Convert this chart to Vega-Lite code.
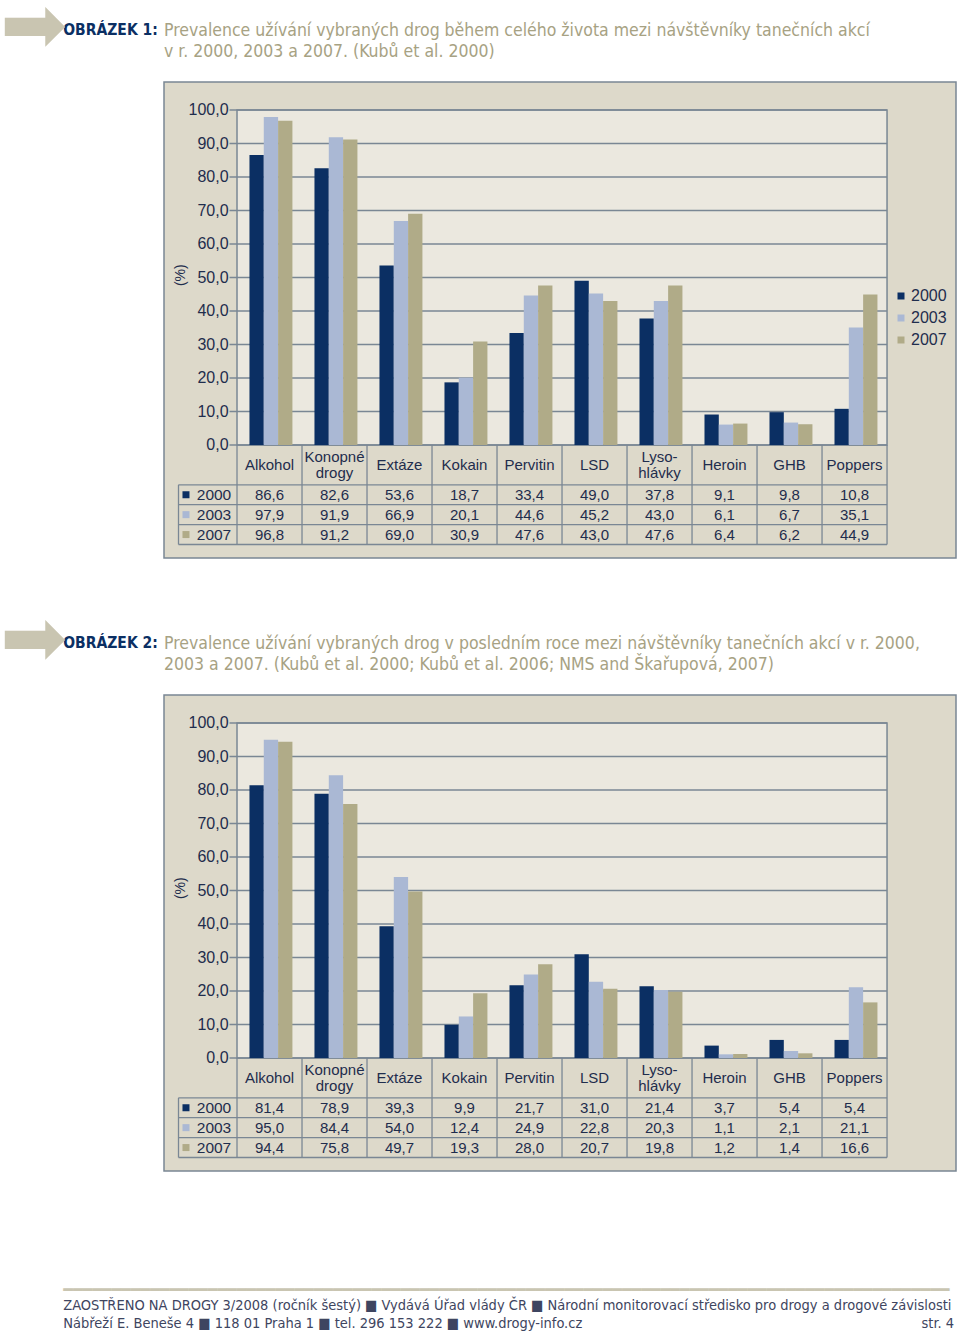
{
"$schema": "https://vega.github.io/schema/vega-lite/v6.json",
"background": "white",
"padding": {"left": 0, "right": 0, "top": -12, "bottom": 0},
"config": {
  "locale": {"number": {"decimal": ",", "thousands": " ", "grouping": [3], "currency": ["", ""]}},
  "font": "Liberation Sans"
},
"datasets": {
  "grid": [{"g":0},{"g":10},{"g":20},{"g":30},{"g":40},{"g":50},{"g":60},{"g":70},{"g":80},{"g":90},{"g":100}],
  "f1": [
    {"drug":"Alkohol","year":"2000","value":86.6},{"drug":"Konopné\ndrogy","year":"2000","value":82.6},{"drug":"Extáze","year":"2000","value":53.6},{"drug":"Kokain","year":"2000","value":18.7},{"drug":"Pervitin","year":"2000","value":33.4},{"drug":"LSD","year":"2000","value":49.0},{"drug":"Lyso-\nhlávky","year":"2000","value":37.8},{"drug":"Heroin","year":"2000","value":9.1},{"drug":"GHB","year":"2000","value":9.8},{"drug":"Poppers","year":"2000","value":10.8},
    {"drug":"Alkohol","year":"2003","value":97.9},{"drug":"Konopné\ndrogy","year":"2003","value":91.9},{"drug":"Extáze","year":"2003","value":66.9},{"drug":"Kokain","year":"2003","value":20.1},{"drug":"Pervitin","year":"2003","value":44.6},{"drug":"LSD","year":"2003","value":45.2},{"drug":"Lyso-\nhlávky","year":"2003","value":43.0},{"drug":"Heroin","year":"2003","value":6.1},{"drug":"GHB","year":"2003","value":6.7},{"drug":"Poppers","year":"2003","value":35.1},
    {"drug":"Alkohol","year":"2007","value":96.8},{"drug":"Konopné\ndrogy","year":"2007","value":91.2},{"drug":"Extáze","year":"2007","value":69.0},{"drug":"Kokain","year":"2007","value":30.9},{"drug":"Pervitin","year":"2007","value":47.6},{"drug":"LSD","year":"2007","value":43.0},{"drug":"Lyso-\nhlávky","year":"2007","value":47.6},{"drug":"Heroin","year":"2007","value":6.4},{"drug":"GHB","year":"2007","value":6.2},{"drug":"Poppers","year":"2007","value":44.9}
  ],
  "f2": [
    {"drug":"Alkohol","year":"2000","value":81.4},{"drug":"Konopné\ndrogy","year":"2000","value":78.9},{"drug":"Extáze","year":"2000","value":39.3},{"drug":"Kokain","year":"2000","value":9.9},{"drug":"Pervitin","year":"2000","value":21.7},{"drug":"LSD","year":"2000","value":31.0},{"drug":"Lyso-\nhlávky","year":"2000","value":21.4},{"drug":"Heroin","year":"2000","value":3.7},{"drug":"GHB","year":"2000","value":5.4},{"drug":"Poppers","year":"2000","value":5.4},
    {"drug":"Alkohol","year":"2003","value":95.0},{"drug":"Konopné\ndrogy","year":"2003","value":84.4},{"drug":"Extáze","year":"2003","value":54.0},{"drug":"Kokain","year":"2003","value":12.4},{"drug":"Pervitin","year":"2003","value":24.9},{"drug":"LSD","year":"2003","value":22.8},{"drug":"Lyso-\nhlávky","year":"2003","value":20.3},{"drug":"Heroin","year":"2003","value":1.1},{"drug":"GHB","year":"2003","value":2.1},{"drug":"Poppers","year":"2003","value":21.1},
    {"drug":"Alkohol","year":"2007","value":94.4},{"drug":"Konopné\ndrogy","year":"2007","value":75.8},{"drug":"Extáze","year":"2007","value":49.7},{"drug":"Kokain","year":"2007","value":19.3},{"drug":"Pervitin","year":"2007","value":28.0},{"drug":"LSD","year":"2007","value":20.7},{"drug":"Lyso-\nhlávky","year":"2007","value":19.8},{"drug":"Heroin","year":"2007","value":1.2},{"drug":"GHB","year":"2007","value":1.4},{"drug":"Poppers","year":"2007","value":16.6}
  ]
},
"title": {"text": "━━━━━━━━━━━━━━━━━━━━━━━━━━━━━━━━━━━━━━━━━━━━━━━━━━━━━━━━━━━━━━━━━━━━━━━━━━━━━━━━━━━━━━━━━━━━", "font": "DejaVu Sans", "fontSize": 16, "fontWeight": "normal", "color": "#c9c5b1",
  "subtitle": ["ZAOSTŘENO NA DROGY 3/2008 (ročník šestý)  ■  Vydává Úřad vlády ČR  ■  Národní monitorovací středisko pro drogy a drogové závislosti", "Nábřeží E. Beneše 4  ■  118 01 Praha 1  ■  tel. 296 153 222  ■  www.drogy-info.cz\u2003\u2003\u2003\u2003\u2003\u2003\u2003\u2003\u2003\u2003\u2003\u2003\u2003\u2003\u2003\u2003\u2003\u2003\u2003\u2003\u2003\u2003\u2003\u2003\u2003\u2003str. 4"],
  "subtitleFont": "DejaVu Sans Condensed, Liberation Sans, sans-serif", "subtitleFontSize": 14.5, "subtitleColor": "#3e4560", "subtitleLineHeight": 18, "subtitlePadding": 1,
  "orient": "bottom", "anchor": "start", "dx": 63, "offset": 110},
"spacing": 42,
"vconcat": [
{
 "title": {"text": "➡", "anchor": "start", "font": "DejaVu Sans", "fontSize": 80, "color": "#c9c5b1", "fontWeight": "normal", "offset": 0, "dx": -63, "dy": 48.5},
 "vconcat": [{
  "title": {"text": "OBRÁZEK 1:", "anchor": "start", "font": "DejaVu Sans Condensed, Liberation Sans, sans-serif", "fontSize": 15.5, "fontWeight": "bold", "color": "#0b2f63", "offset": 0, "dx": -100, "dy": 18},
  "vconcat": [{
   "width": 792, "height": 476,
   "view": {"fill": "#ddd9ca", "stroke": "#7a8794", "strokeWidth": 1.5},
   "title": {"text": ["Prevalence užívání vybraných drog během celého života mezi návštěvníky tanečních akcí", "v r. 2000, 2003 a 2007. (Kubů et al.  2000)"], "anchor": "start", "font": "DejaVu Sans Condensed, Liberation Sans, sans-serif", "fontSize": 17.5, "fontWeight": "normal", "color": "#a7a283", "lineHeight": 21, "offset": 22},
   "resolve": {"scale": {"y": "independent"}},
   "layer": [
    {"layer": [
     {"data": {"values": [{}]}, "mark": {"type": "rect", "fill": "#ebe8df", "stroke": "#7a8794", "strokeWidth": 1.5},
      "encoding": {
       "x": {"datum": "Alkohol", "bandPosition": 0, "type": "nominal", "scale": {"type": "band", "domain": ["_lab","Alkohol","Konopné\ndrogy","Extáze","Kokain","Pervitin","LSD","Lyso-\nhlávky","Heroin","GHB","Poppers"], "paddingInner": 0, "paddingOuter": 0.592, "align": 0.104}, "axis": null},
       "x2": {"datum": "Poppers", "bandPosition": 1},
       "y": {"datum": 0, "type": "quantitative", "scale": {"domain": [-33.73, 108.36], "nice": false, "zero": false}, "axis": null},
       "y2": {"datum": 100}
      }},
     {"data": {"name": "grid"}, "mark": {"type": "rule", "color": "#7a8794", "strokeWidth": 1.3},
      "encoding": {
       "x": {"datum": "_lab", "bandPosition": 0.885, "type": "nominal", "axis": null},
       "x2": {"datum": "Poppers", "bandPosition": 1},
       "y": {"field": "g", "type": "quantitative", "axis": null}
      }},
     {"data": {"name": "grid"}, "mark": {"type": "text", "align": "right", "baseline": "middle", "fontSize": 16, "font": "Liberation Sans", "color": "#1f2d4d"},
      "encoding": {
       "x": {"datum": "_lab", "bandPosition": 0.87, "type": "nominal", "axis": null},
       "y": {"field": "g", "type": "quantitative", "axis": null},
       "text": {"field": "g", "format": ".1f"}
      }},
     {"data": {"values": [{"t": "(%)"}]}, "mark": {"type": "text", "angle": 270, "align": "center", "baseline": "middle", "fontSize": 14, "font": "Liberation Sans", "color": "#1f2d4d"},
      "encoding": {
       "x": {"datum": "_lab", "bandPosition": 0.14, "type": "nominal", "axis": null},
       "y": {"datum": 50.7, "type": "quantitative", "axis": null},
       "text": {"field": "t"}
      }},
     {"data": {"name": "f1"}, "mark": {"type": "bar"},
      "encoding": {
       "x": {"field": "drug", "type": "nominal", "axis": null},
       "xOffset": {"field": "year", "type": "nominal", "scale": {"type": "band", "domain": ["2000","2003","2007"], "paddingInner": 0, "paddingOuter": 0.77, "align": 0.565}},
       "y": {"field": "value", "type": "quantitative", "axis": null},
       "y2": {"datum": 0},
       "color": {"field": "year", "type": "nominal", "scale": {"domain": ["2000","2003","2007"], "range": ["#0b2f63","#aab8d4","#b0ab88"]},
                 "legend": {"orient": "none", "legendX": 729, "legendY": 206, "title": null, "symbolType": "square", "symbolSize": 49, "symbolStrokeWidth": 0, "labelFontSize": 16, "labelFont": "Liberation Sans", "labelColor": "#1f2d4d", "rowPadding": 6, "labelOffset": 2}}
      }}
    ]},
    {"layer": [
     {"data": {"name": "f1"}, "transform": [{"filter": {"field": "year", "equal": "2000"}}, {"filter": {"not": {"field": "drug", "oneOf": ["Konopné\ndrogy", "Lyso-\nhlávky"]}}}],
      "mark": {"type": "text", "fontSize": 15, "font": "Liberation Sans", "color": "#1f2d4d", "baseline": "middle"},
      "encoding": {
       "x": {"field": "drug", "type": "nominal", "axis": null},
       "y": {"datum": "h2", "bandPosition": 0, "type": "nominal", "scale": {"type": "band", "domain": ["h1","h2","2000","2003","2007"], "paddingInner": 0, "paddingOuter": 0, "range": [363, 462.5]}, "axis": null},
       "text": {"field": "drug"}
      }},
     {"data": {"name": "f1"}, "transform": [{"filter": {"field": "year", "equal": "2000"}}, {"filter": {"field": "drug", "oneOf": ["Konopné\ndrogy", "Lyso-\nhlávky"]}}],
      "mark": {"type": "text", "lineBreak": "\n", "fontSize": 15, "font": "Liberation Sans", "color": "#1f2d4d", "baseline": "middle", "lineHeight": 16},
      "encoding": {
       "x": {"field": "drug", "type": "nominal", "axis": null},
       "y": {"datum": "h1", "bandPosition": 0.6, "type": "nominal", "axis": null},
       "text": {"field": "drug"}
      }},
     {"data": {"name": "f1"},
      "mark": {"type": "text", "fontSize": 15, "font": "Liberation Sans", "color": "#1f2d4d", "baseline": "middle"},
      "encoding": {
       "x": {"field": "drug", "type": "nominal", "axis": null},
       "y": {"field": "year", "type": "nominal", "axis": null},
       "text": {"field": "value", "format": ".1f"}
      }},
     {"data": {"name": "f1"}, "transform": [{"filter": {"field": "drug", "equal": "Alkohol"}}],
      "mark": {"type": "text", "fontSize": 15.5, "font": "Liberation Sans", "color": "#1f2d4d", "baseline": "middle"},
      "encoding": {
       "x": {"datum": "_lab", "bandPosition": 0.646, "type": "nominal", "axis": null},
       "y": {"field": "year", "type": "nominal", "axis": null},
       "text": {"field": "year"}
      }},
     {"data": {"name": "f1"}, "transform": [{"filter": {"field": "drug", "equal": "Alkohol"}}],
      "mark": {"type": "point", "shape": "square", "filled": true, "size": 49, "opacity": 1},
      "encoding": {
       "x": {"datum": "_lab", "bandPosition": 0.215, "type": "nominal", "axis": null},
       "y": {"field": "year", "type": "nominal", "axis": null},
       "color": {"field": "year", "type": "nominal", "legend": null}
      }},
     {"data": {"name": "f1"}, "transform": [{"filter": {"field": "year", "equal": "2000"}}],
      "mark": {"type": "rule", "color": "#7a8794", "strokeWidth": 1.3},
      "encoding": {
       "x": {"field": "drug", "bandPosition": 0, "type": "nominal", "axis": null},
       "y": {"datum": "h1", "bandPosition": 0, "type": "nominal", "axis": null},
       "y2": {"datum": "2007", "bandPosition": 1}
      }},
     {"data": {"values": [{}]},
      "mark": {"type": "rule", "color": "#7a8794", "strokeWidth": 1.3},
      "encoding": {
       "x": {"datum": "Poppers", "bandPosition": 1, "type": "nominal", "axis": null},
       "y": {"datum": "h1", "bandPosition": 0, "type": "nominal", "axis": null},
       "y2": {"datum": "2007", "bandPosition": 1}
      }},
     {"data": {"values": [{}]},
      "mark": {"type": "rule", "color": "#7a8794", "strokeWidth": 1.3},
      "encoding": {
       "x": {"datum": "_lab", "bandPosition": 0.1, "type": "nominal", "axis": null},
       "y": {"datum": "2000", "bandPosition": 0, "type": "nominal", "axis": null},
       "y2": {"datum": "2007", "bandPosition": 1}
      }},
     {"data": {"name": "f1"}, "transform": [{"filter": {"field": "drug", "equal": "Alkohol"}}],
      "mark": {"type": "rule", "color": "#7a8794", "strokeWidth": 1.3},
      "encoding": {
       "x": {"datum": "_lab", "bandPosition": 0.1, "type": "nominal", "axis": null},
       "x2": {"datum": "Poppers", "bandPosition": 1},
       "y": {"field": "year", "bandPosition": 0, "type": "nominal", "axis": null}
      }},
     {"data": {"values": [{}]},
      "mark": {"type": "rule", "color": "#7a8794", "strokeWidth": 1.3},
      "encoding": {
       "x": {"datum": "_lab", "bandPosition": 0.1, "type": "nominal", "axis": null},
       "x2": {"datum": "Poppers", "bandPosition": 1},
       "y": {"datum": "2007", "bandPosition": 1, "type": "nominal", "axis": null}
      }}
    ]}
   ]
  }]
 }]
},
{
 "title": {"text": "➡", "anchor": "start", "font": "DejaVu Sans", "fontSize": 80, "color": "#c9c5b1", "fontWeight": "normal", "offset": 0, "dx": -63, "dy": 48.5},
 "vconcat": [{
  "title": {"text": "OBRÁZEK 2:", "anchor": "start", "font": "DejaVu Sans Condensed, Liberation Sans, sans-serif", "fontSize": 15.5, "fontWeight": "bold", "color": "#0b2f63", "offset": 0, "dx": -100, "dy": 18},
  "vconcat": [{
   "width": 792, "height": 476,
   "view": {"fill": "#ddd9ca", "stroke": "#7a8794", "strokeWidth": 1.5},
   "title": {"text": ["Prevalence užívání vybraných drog v posledním roce mezi návštěvníky tanečních akcí v r. 2000,", "2003 a 2007. (Kubů et al.  2000; Kubů et al.  2006; NMS and Škařupová, 2007)"], "anchor": "start", "font": "DejaVu Sans Condensed, Liberation Sans, sans-serif", "fontSize": 17.5, "fontWeight": "normal", "color": "#a7a283", "lineHeight": 21, "offset": 22},
   "resolve": {"scale": {"y": "independent"}},
   "layer": [
    {"layer": [
     {"data": {"values": [{}]}, "mark": {"type": "rect", "fill": "#ebe8df", "stroke": "#7a8794", "strokeWidth": 1.5},
      "encoding": {
       "x": {"datum": "Alkohol", "bandPosition": 0, "type": "nominal", "scale": {"type": "band", "domain": ["_lab","Alkohol","Konopné\ndrogy","Extáze","Kokain","Pervitin","LSD","Lyso-\nhlávky","Heroin","GHB","Poppers"], "paddingInner": 0, "paddingOuter": 0.592, "align": 0.104}, "axis": null},
       "x2": {"datum": "Poppers", "bandPosition": 1},
       "y": {"datum": 0, "type": "quantitative", "scale": {"domain": [-33.73, 108.36], "nice": false, "zero": false}, "axis": null},
       "y2": {"datum": 100}
      }},
     {"data": {"name": "grid"}, "mark": {"type": "rule", "color": "#7a8794", "strokeWidth": 1.3},
      "encoding": {
       "x": {"datum": "_lab", "bandPosition": 0.885, "type": "nominal", "axis": null},
       "x2": {"datum": "Poppers", "bandPosition": 1},
       "y": {"field": "g", "type": "quantitative", "axis": null}
      }},
     {"data": {"name": "grid"}, "mark": {"type": "text", "align": "right", "baseline": "middle", "fontSize": 16, "font": "Liberation Sans", "color": "#1f2d4d"},
      "encoding": {
       "x": {"datum": "_lab", "bandPosition": 0.87, "type": "nominal", "axis": null},
       "y": {"field": "g", "type": "quantitative", "axis": null},
       "text": {"field": "g", "format": ".1f"}
      }},
     {"data": {"values": [{"t": "(%)"}]}, "mark": {"type": "text", "angle": 270, "align": "center", "baseline": "middle", "fontSize": 14, "font": "Liberation Sans", "color": "#1f2d4d"},
      "encoding": {
       "x": {"datum": "_lab", "bandPosition": 0.14, "type": "nominal", "axis": null},
       "y": {"datum": 50.7, "type": "quantitative", "axis": null},
       "text": {"field": "t"}
      }},
     {"data": {"name": "f2"}, "mark": {"type": "bar"},
      "encoding": {
       "x": {"field": "drug", "type": "nominal", "axis": null},
       "xOffset": {"field": "year", "type": "nominal", "scale": {"type": "band", "domain": ["2000","2003","2007"], "paddingInner": 0, "paddingOuter": 0.77, "align": 0.565}},
       "y": {"field": "value", "type": "quantitative", "axis": null},
       "y2": {"datum": 0},
       "color": {"field": "year", "type": "nominal", "scale": {"domain": ["2000","2003","2007"], "range": ["#0b2f63","#aab8d4","#b0ab88"]},
                 "legend": {"orient": "none", "legendX": 729, "legendY": 206, "title": null, "symbolType": "square", "symbolSize": 49, "symbolStrokeWidth": 0, "labelFontSize": 16, "labelFont": "Liberation Sans", "labelColor": "#1f2d4d", "rowPadding": 6, "labelOffset": 2}}
      }}
    ]},
    {"layer": [
     {"data": {"name": "f2"}, "transform": [{"filter": {"field": "year", "equal": "2000"}}, {"filter": {"not": {"field": "drug", "oneOf": ["Konopné\ndrogy", "Lyso-\nhlávky"]}}}],
      "mark": {"type": "text", "fontSize": 15, "font": "Liberation Sans", "color": "#1f2d4d", "baseline": "middle"},
      "encoding": {
       "x": {"field": "drug", "type": "nominal", "axis": null},
       "y": {"datum": "h2", "bandPosition": 0, "type": "nominal", "scale": {"type": "band", "domain": ["h1","h2","2000","2003","2007"], "paddingInner": 0, "paddingOuter": 0, "range": [363, 462.5]}, "axis": null},
       "text": {"field": "drug"}
      }},
     {"data": {"name": "f2"}, "transform": [{"filter": {"field": "year", "equal": "2000"}}, {"filter": {"field": "drug", "oneOf": ["Konopné\ndrogy", "Lyso-\nhlávky"]}}],
      "mark": {"type": "text", "lineBreak": "\n", "fontSize": 15, "font": "Liberation Sans", "color": "#1f2d4d", "baseline": "middle", "lineHeight": 16},
      "encoding": {
       "x": {"field": "drug", "type": "nominal", "axis": null},
       "y": {"datum": "h1", "bandPosition": 0.6, "type": "nominal", "axis": null},
       "text": {"field": "drug"}
      }},
     {"data": {"name": "f2"},
      "mark": {"type": "text", "fontSize": 15, "font": "Liberation Sans", "color": "#1f2d4d", "baseline": "middle"},
      "encoding": {
       "x": {"field": "drug", "type": "nominal", "axis": null},
       "y": {"field": "year", "type": "nominal", "axis": null},
       "text": {"field": "value", "format": ".1f"}
      }},
     {"data": {"name": "f2"}, "transform": [{"filter": {"field": "drug", "equal": "Alkohol"}}],
      "mark": {"type": "text", "fontSize": 15.5, "font": "Liberation Sans", "color": "#1f2d4d", "baseline": "middle"},
      "encoding": {
       "x": {"datum": "_lab", "bandPosition": 0.646, "type": "nominal", "axis": null},
       "y": {"field": "year", "type": "nominal", "axis": null},
       "text": {"field": "year"}
      }},
     {"data": {"name": "f2"}, "transform": [{"filter": {"field": "drug", "equal": "Alkohol"}}],
      "mark": {"type": "point", "shape": "square", "filled": true, "size": 49, "opacity": 1},
      "encoding": {
       "x": {"datum": "_lab", "bandPosition": 0.215, "type": "nominal", "axis": null},
       "y": {"field": "year", "type": "nominal", "axis": null},
       "color": {"field": "year", "type": "nominal", "legend": null}
      }},
     {"data": {"name": "f2"}, "transform": [{"filter": {"field": "year", "equal": "2000"}}],
      "mark": {"type": "rule", "color": "#7a8794", "strokeWidth": 1.3},
      "encoding": {
       "x": {"field": "drug", "bandPosition": 0, "type": "nominal", "axis": null},
       "y": {"datum": "h1", "bandPosition": 0, "type": "nominal", "axis": null},
       "y2": {"datum": "2007", "bandPosition": 1}
      }},
     {"data": {"values": [{}]},
      "mark": {"type": "rule", "color": "#7a8794", "strokeWidth": 1.3},
      "encoding": {
       "x": {"datum": "Poppers", "bandPosition": 1, "type": "nominal", "axis": null},
       "y": {"datum": "h1", "bandPosition": 0, "type": "nominal", "axis": null},
       "y2": {"datum": "2007", "bandPosition": 1}
      }},
     {"data": {"values": [{}]},
      "mark": {"type": "rule", "color": "#7a8794", "strokeWidth": 1.3},
      "encoding": {
       "x": {"datum": "_lab", "bandPosition": 0.1, "type": "nominal", "axis": null},
       "y": {"datum": "2000", "bandPosition": 0, "type": "nominal", "axis": null},
       "y2": {"datum": "2007", "bandPosition": 1}
      }},
     {"data": {"name": "f2"}, "transform": [{"filter": {"field": "drug", "equal": "Alkohol"}}],
      "mark": {"type": "rule", "color": "#7a8794", "strokeWidth": 1.3},
      "encoding": {
       "x": {"datum": "_lab", "bandPosition": 0.1, "type": "nominal", "axis": null},
       "x2": {"datum": "Poppers", "bandPosition": 1},
       "y": {"field": "year", "bandPosition": 0, "type": "nominal", "axis": null}
      }},
     {"data": {"values": [{}]},
      "mark": {"type": "rule", "color": "#7a8794", "strokeWidth": 1.3},
      "encoding": {
       "x": {"datum": "_lab", "bandPosition": 0.1, "type": "nominal", "axis": null},
       "x2": {"datum": "Poppers", "bandPosition": 1},
       "y": {"datum": "2007", "bandPosition": 1, "type": "nominal", "axis": null}
      }}
    ]}
   ]
  }]
 }]
}
]
}
